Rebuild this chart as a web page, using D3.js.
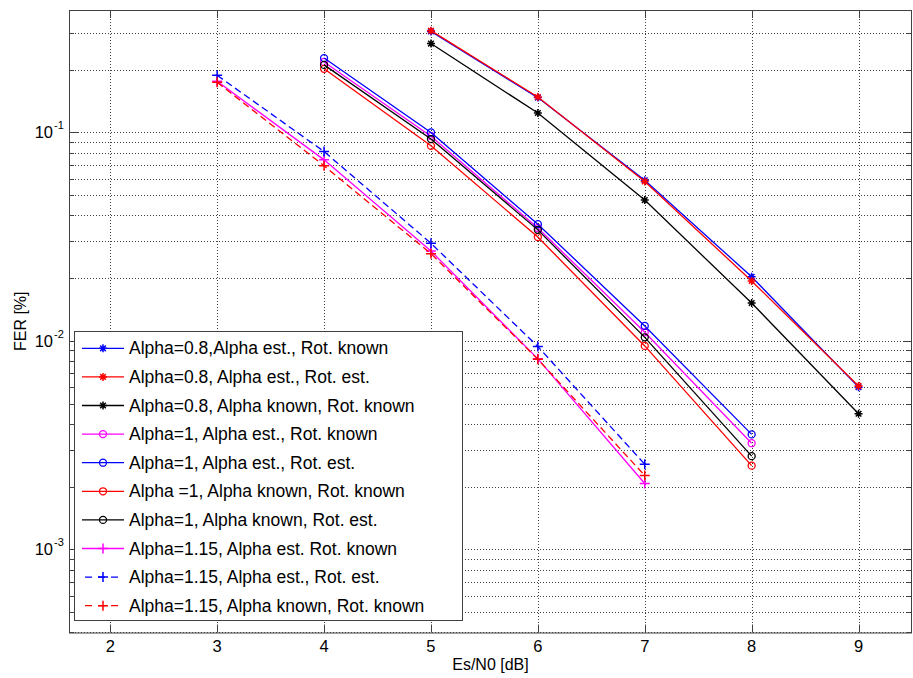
<!DOCTYPE html>
<html><head><meta charset="utf-8">
<script src="https://cdn.jsdelivr.net/npm/d3@7"></script>
<style>
html,body{margin:0;padding:0;background:#fff;}
svg{display:block;font-family:"Liberation Sans",Arial,sans-serif;}
</style></head>
<body><svg id="chart" width="913" height="678"></svg>
<script>
// ---- data ----
const xTicks = [2,3,4,5,6,7,8,9];
const yDecades = [-3,-2,-1];
const xAlpha08 = [5,6,7,8,9];
const xAlpha1 = [4,5,6,7,8];
const xAlpha115 = [3,4,5,6,7];
const a08EstRotKnown   = [0.305, 0.147, 0.059, 0.0203, 0.0060];
const a08EstRotEst     = [0.308, 0.148, 0.0582, 0.0194, 0.00608];
const a08KnownRotKnown = [0.267, 0.124, 0.0474, 0.0152, 0.00447];
const a1EstRotKnown    = [0.218, 0.096, 0.0348, 0.0110, 0.00323];
const a1EstRotEst      = [0.2275, 0.100, 0.0363, 0.0118, 0.00356];
const a1KnownRotKnown  = [0.202, 0.0863, 0.0315, 0.00946, 0.00252];
const a1KnownRotEst    = [0.211, 0.093, 0.0341, 0.0104, 0.0028];
const a115EstRotKnown  = [0.176, 0.0739, 0.027, 0.0082, 0.00207];
const a115EstRotEst    = [0.188, 0.081, 0.0294, 0.0094, 0.00256];
const a115KnownRotKnown= [0.174, 0.0692, 0.0262, 0.00817, 0.00226];
const labels = [
 "Alpha=0.8,Alpha est., Rot. known",
 "Alpha=0.8, Alpha est., Rot. est.",
 "Alpha=0.8, Alpha known, Rot. known",
 "Alpha=1, Alpha est., Rot. known",
 "Alpha=1, Alpha est., Rot. est.",
 "Alpha =1, Alpha known, Rot. known",
 "Alpha=1, Alpha known, Rot. est.",
 "Alpha=1.15, Alpha est. Rot. known",
 "Alpha=1.15, Alpha est., Rot. est.",
 "Alpha=1.15, Alpha known, Rot. known"
];
const series = [
 {x:xAlpha08, y:a08EstRotKnown, color:"#0000ff", marker:"star", dash:false},
 {x:xAlpha08, y:a08EstRotEst, color:"#ff0000", marker:"star", dash:false},
 {x:xAlpha08, y:a08KnownRotKnown, color:"#000000", marker:"star", dash:false},
 {x:xAlpha1, y:a1EstRotKnown, color:"#ff00ff", marker:"circle", dash:false},
 {x:xAlpha1, y:a1EstRotEst, color:"#0000ff", marker:"circle", dash:false},
 {x:xAlpha1, y:a1KnownRotKnown, color:"#ff0000", marker:"circle", dash:false},
 {x:xAlpha1, y:a1KnownRotEst, color:"#000000", marker:"circle", dash:false},
 {x:xAlpha115, y:a115EstRotKnown, color:"#ff00ff", marker:"plus", dash:false},
 {x:xAlpha115, y:a115EstRotEst, color:"#0000ff", marker:"plus", dash:true},
 {x:xAlpha115, y:a115KnownRotKnown, color:"#ff0000", marker:"plus", dash:true}
];
series.forEach((s,i)=>s.label=labels[i]);

// ---- layout ----
const L=69, R=912, T=10, B=632.5;
const svg = d3.select("#chart");
const x = d3.scaleLinear().domain([1.614, 9.5]).range([L, R]);
const y = d3.scaleLog().domain([Math.pow(10,-3.399), Math.pow(10,-0.4124)]).range([B, T]);
const axisColor = "#404040";

// grid
const g = svg.append("g");
const minorVals = [];
for (let d=-4; d<=0; d++) for (let m=1; m<=9; m++) {
  const v = m*Math.pow(10,d);
  if (v>=y.domain()[0] && v<=y.domain()[1]) minorVals.push({v, major:m===1});
}
g.selectAll("line.hg").data(minorVals).enter().append("line")
 .attr("x1",L).attr("x2",R).attr("y1",d=>Math.round(y(d.v))+0.5).attr("y2",d=>Math.round(y(d.v))+0.5)
 .attr("stroke","#000").attr("stroke-width",1).attr("stroke-dasharray","1,2").attr("opacity",0.75);
g.selectAll("line.vg").data(xTicks).enter().append("line")
 .attr("y1",T).attr("y2",B).attr("x1",d=>Math.round(x(d))+0.5).attr("x2",d=>Math.round(x(d))+0.5)
 .attr("stroke","#000").attr("stroke-width",1).attr("stroke-dasharray","1,2").attr("opacity",0.75);

// ticks (inside, both sides)
const tk = svg.append("g").attr("stroke",axisColor).attr("stroke-width",1);
minorVals.forEach(d=>{
  const yy = Math.round(y(d.v))+0.5, len = d.major?9:5;
  tk.append("line").attr("x1",L).attr("x2",L+len).attr("y1",yy).attr("y2",yy);
  tk.append("line").attr("x1",R-len).attr("x2",R).attr("y1",yy).attr("y2",yy);
});
xTicks.forEach(d=>{
  const xx = Math.round(x(d))+0.5;
  tk.append("line").attr("x1",xx).attr("x2",xx).attr("y1",B-8).attr("y2",B);
  tk.append("line").attr("x1",xx).attr("x2",xx).attr("y1",T).attr("y2",T+8);
});
svg.append("rect").attr("x",L+0.5).attr("y",T+0.5).attr("width",R-L-1).attr("height",B-T)
 .attr("fill","none").attr("stroke",axisColor).attr("stroke-width",1);

// tick labels
svg.selectAll("text.xt").data(xTicks).enter().append("text")
 .attr("x",d=>x(d)).attr("y",B+19).attr("text-anchor","middle")
 .attr("font-size",16.5).attr("fill","#000").text(d=>d);
yDecades.forEach(dec=>{
  const yy = y(Math.pow(10,dec));
  svg.append("text").attr("x",53).attr("y",yy+6).attr("text-anchor","end")
    .attr("font-size",16.5).attr("fill","#000").text("10");
  svg.append("text").attr("x",54).attr("y",yy-3).attr("font-size",11).attr("fill","#000").text(dec);
});
svg.append("text").attr("x",(L+R)/2).attr("y",670).attr("text-anchor","middle")
 .attr("font-size",16).text("Es/N0 [dB]");
svg.append("text").attr("transform",`translate(26,${(T+B)/2}) rotate(-90)`).attr("text-anchor","middle")
 .attr("font-size",16).text("FER [%]");

// series
const plot = svg.append("g");
function drawMarker(sel, type, cx, cy, color){
  if (type==="circle") {
    sel.append("circle").attr("cx",cx).attr("cy",cy).attr("r",3.5).attr("fill","none").attr("stroke",color).attr("stroke-width",1.3);
  } else if (type==="plus") {
    const h=5;
    sel.append("path").attr("d",`M${cx-h},${cy}H${cx+h}M${cx},${cy-h}V${cy+h}`).attr("stroke",color).attr("stroke-width",1.5);
  } else {
    const h=4, k=2.8;
    sel.append("path").attr("d",`M${cx-h},${cy}H${cx+h}M${cx},${cy-h}V${cy+h}M${cx-k},${cy-k}L${cx+k},${cy+k}M${cx-k},${cy+k}L${cx+k},${cy-k}`)
     .attr("stroke",color).attr("stroke-width",1.5);
  }
}
const line = d3.line().x(d=>x(d[0])).y(d=>y(d[1]));
series.forEach(s=>{
  const pts = s.x.map((xv,i)=>[xv,s.y[i]]);
  plot.append("path").attr("d",line(pts)).attr("fill","none").attr("stroke",s.color)
    .attr("stroke-width",1.3).attr("stroke-dasharray",s.dash?"7,4":null);
  pts.forEach(p=>drawMarker(plot,s.marker,x(p[0]),y(p[1]),s.color));
});

// legend
const lg = svg.append("g");
lg.append("rect").attr("x",74.5).attr("y",331.5).attr("width",388).attr("height",289)
  .attr("fill","#fff").attr("stroke",axisColor).attr("stroke-width",1);
series.forEach((s,i)=>{
  const yy = 348.3 + i*28.6;
  if (s.dash) {
    lg.append("line").attr("x1",85).attr("x2",123).attr("y1",yy).attr("y2",yy)
      .attr("stroke",s.color).attr("stroke-width",1.3).attr("stroke-dasharray","7,6");
  } else {
    lg.append("line").attr("x1",82).attr("x2",124).attr("y1",yy).attr("y2",yy)
      .attr("stroke",s.color).attr("stroke-width",1.3);
  }
  drawMarker(lg, s.marker, 103, yy, s.color);
  lg.append("text").attr("x",129).attr("y",yy+6).attr("font-size",17.5).attr("fill","#000").text(s.label);
});
</script></body></html>
